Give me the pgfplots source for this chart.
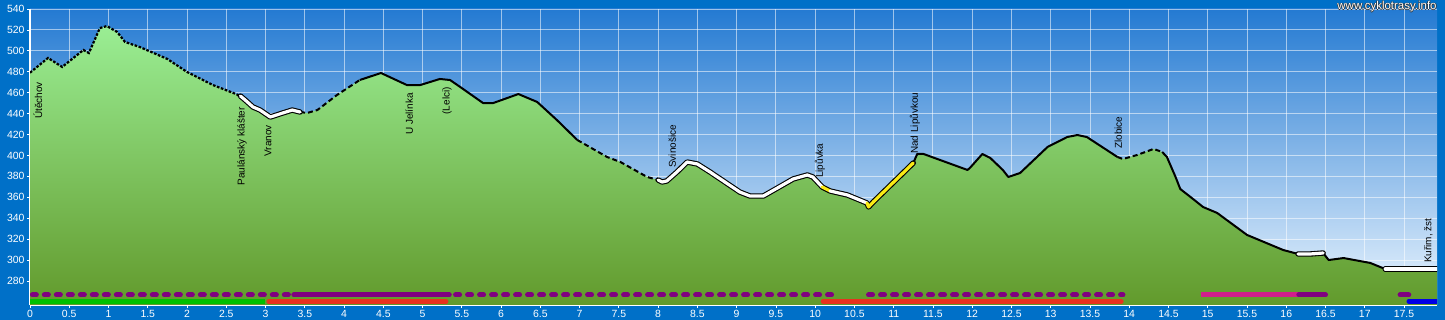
\documentclass[border=0pt]{standalone}
\usepackage{fontspec}
\setmainfont{Liberation Sans}
\usepackage{pgfplots}
\pgfplotsset{compat=1.18}
\usepackage{pgfplotstable}
\definecolor{frameblue}{RGB}{0,112,200}
\definecolor{skytop}{RGB}{36,122,210}
\definecolor{skybot}{RGB}{236,246,255}
\definecolor{greentop}{RGB}{154,238,148}
\definecolor{greenbot}{RGB}{98,154,44}
\definecolor{barpurple}{RGB}{128,0,128}
\definecolor{barmagenta}{RGB}{208,30,140}
\definecolor{barred}{RGB}{232,50,30}
\definecolor{bargreen}{RGB}{0,192,0}
\definecolor{barblue}{RGB}{0,0,230}
\definecolor{trailyellow}{RGB}{250,235,20}

\pgfplotstableread{
x y
0.00 479.1
0.23 493.2
0.41 484.6
0.68 500.8
0.75 497.9
0.89 521.8
0.98 523.7
1.11 518.0
1.21 508.5
1.40 503.6
1.75 492.2
2.00 479.8
2.33 467.3
2.59 459.7
2.68 456.8
2.74 453.0
2.84 446.3
2.93 443.4
3.06 436.7
3.22 440.6
3.34 443.4
3.44 441.5
3.53 440.6
3.66 443.4
3.91 457.8
4.20 472.1
4.47 478.8
4.80 467.3
4.97 467.3
5.22 473.1
5.35 472.1
5.48 465.4
5.77 450.1
5.90 450.1
6.22 458.7
6.46 451.1
6.71 433.9
6.97 414.8
7.35 398.5
7.52 393.7
7.86 379.4
8.00 376.5
8.05 374.6
8.11 375.6
8.24 384.2
8.37 393.7
8.50 391.8
8.66 384.2
9.04 365.0
9.17 361.2
9.34 361.2
9.52 368.9
9.72 377.5
9.90 381.3
9.97 379.4
10.09 369.8
10.19 366.0
10.41 362.2
10.66 354.5
10.68 350.7
10.74 355.5
11.25 392.8
11.30 401.4
11.38 401.4
11.94 386.1
11.97 388.0
12.13 401.4
12.23 397.6
12.39 386.1
12.46 379.4
12.61 383.2
12.96 408.1
13.21 417.6
13.34 419.5
13.46 417.6
13.85 398.5
13.92 396.6
14.10 400.4
14.31 406.2
14.42 403.3
14.48 398.5
14.59 379.4
14.65 367.9
14.78 360.3
14.94 350.7
15.12 345.0
15.50 324.0
15.96 309.6
16.15 305.8
16.31 305.8
16.47 306.7
16.54 300.0
16.73 301.9
17.07 297.2
17.26 291.4
17.92 291.4
}\profile

\begin{document}
\begin{tikzpicture}[
  wb/.style={black, line width=5.4bp, line join=round, line cap=round},
  ww/.style={white, line width=3.2bp, line join=round, line cap=round},
  wy/.style={trailyellow, line width=3.2bp, line join=round, line cap=round},
  bsolid/.style={black, line width=2bp, line join=round},
  bdot/.style={black, line width=2.2bp, dash pattern=on 2.6bp off 1.6bp},
  bdash/.style={black, line width=2bp, dash pattern=on 5bp off 3bp},
  lab/.style={rotate=90, inner sep=0pt, font=\fontsize{10}{11}\selectfont, text=black},
]
\path[use as bounding box, fill=frameblue] (-30bp,-15bp) rectangle (1415bp,305bp);
\begin{axis}[
  at={(0,0)}, anchor=south west,
  scale only axis, width=1407bp, height=296bp,
  xmin=0, xmax=17.92, ymin=257, ymax=540,
  axis background/.style={top color=skytop, bottom color=skybot},
  xtick={0,0.5,...,17.5},
  ytick={280,300,...,540},
  grid=major,
  grid style={white, opacity=0.55, line width=0.9bp},
  axis lines*=left,
  axis line style={white, line width=1.3bp},
  tick style={white, line width=0.8bp},
  tick align=outside,
  major tick length=3bp,
  ticklabel style={text=white, font=\fontsize{10.5}{11}\selectfont},
  xticklabel style={yshift=1.5bp},
  yticklabel style={xshift=1bp},
  /pgf/number format/assume math mode=true,
  clip mode=individual,
]
% green area
\addplot[draw=none, top color=greentop, bottom color=greenbot] table {\profile} -- (axis cs:17.92,257) -- (axis cs:0,257) -- cycle;

% black profile segments
\addplot[bdot, restrict x to domain=-0.01:2.681] table {\profile};
\addplot[bdash, restrict x to domain=3.439:4.201] table {\profile};
\addplot[bsolid, restrict x to domain=4.199:6.971] table {\profile};
\addplot[bdash, restrict x to domain=6.969:8.001] table {\profile};
\addplot[bsolid, restrict x to domain=11.249:13.851] table {\profile};
\addplot[bdash, restrict x to domain=13.849:14.421] table {\profile};
\addplot[bsolid, restrict x to domain=14.419:16.151] table {\profile};
\addplot[bsolid, restrict x to domain=16.469:17.261] table {\profile};

% outlined white / yellow segments
\addplot[wb, restrict x to domain=2.679:3.441] table {\profile};
\addplot[wb, restrict x to domain=7.999:11.251] table {\profile};
\addplot[wb, restrict x to domain=16.149:16.471] table {\profile};
\addplot[wb, restrict x to domain=17.259:17.93] table {\profile};
\addplot[ww, restrict x to domain=2.679:3.441] table {\profile};
\addplot[ww, restrict x to domain=7.999:10.091] table {\profile};
\addplot[wy, restrict x to domain=10.089:10.191] table {\profile};
\addplot[ww, restrict x to domain=10.189:10.661] table {\profile};
\addplot[wy, restrict x to domain=10.659:11.251] table {\profile};
\addplot[ww, restrict x to domain=16.149:16.471] table {\profile};
\addplot[ww, restrict x to domain=17.259:17.93] table {\profile};

% bottom bars
\addplot[barpurple, line width=5bp, line cap=round, dash pattern=on 4bp off 8bp] coordinates {(0.03,266.6) (3.33,266.6)};
\addplot[barpurple, line width=5bp, line cap=round] coordinates {(3.36,266.6) (5.34,266.6)};
\addplot[barpurple, line width=5bp, line cap=round, dash pattern=on 4bp off 8bp] coordinates {(5.42,266.6) (10.29,266.6)};
\addplot[barpurple, line width=5bp, line cap=round, dash pattern=on 4bp off 8bp] coordinates {(10.68,266.6) (13.92,266.6)};
\addplot[barmagenta, line width=5bp] coordinates {(14.92,266.6) (16.16,266.6)};
\addplot[barpurple, line width=5bp, line cap=round] coordinates {(16.16,266.6) (16.50,266.6)};
\addplot[barpurple, line width=5bp, line cap=round] coordinates {(17.45,266.6) (17.56,266.6)};
\addplot[bargreen, line width=4.5bp] coordinates {(0,260.4) (2.99,260.4)};
\addplot[barred, line width=4.5bp, line cap=round] coordinates {(3.04,260.4) (5.30,260.4)};
\addplot[barred, line width=4.5bp, line cap=round] coordinates {(10.10,260.4) (13.90,260.4)};
\addplot[barblue, line width=4.5bp, line cap=round] coordinates {(17.56,260.4) (17.92,260.4)};

% place labels
\node[lab, anchor=east] at (axis cs:0.10,470.2) {Útěchov};
\node[lab, anchor=east] at (axis cs:2.70,446.3) {Paulánský klášter};
\node[lab, anchor=east] at (axis cs:3.03,429.0) {Vranov};
\node[lab, anchor=east] at (axis cs:4.83,459.7) {U Jelínka};
\node[lab, anchor=east] at (axis cs:5.31,465.4) {(Lelci)};
\node[lab, anchor=west] at (axis cs:8.18,388.0) {Svinošice};
\node[lab, anchor=west] at (axis cs:10.06,378.4) {Lipůvka};
\node[lab, anchor=west] at (axis cs:11.27,401.4) {Nad Lipůvkou};
\node[lab, anchor=west] at (axis cs:13.86,406.2) {Zlobice};
\node[lab, anchor=west] at (axis cs:17.81,297.2) {Kuřim, žst};
\end{axis}
% watermark
\foreach \dx/\dy in {0.6/0,-0.6/0,0/0.6,0/-0.6}
  \node[inner sep=0pt, font=\fontsize{11.5}{12}\selectfont, text=black!80] at (1357bp+\dx bp,298bp+\dy bp) {www.cyklotrasy.info};
\node[inner sep=0pt, font=\fontsize{11.5}{12}\selectfont, text=white] at (1357bp,298bp) {www.cyklotrasy.info};
\end{tikzpicture}
\end{document}
